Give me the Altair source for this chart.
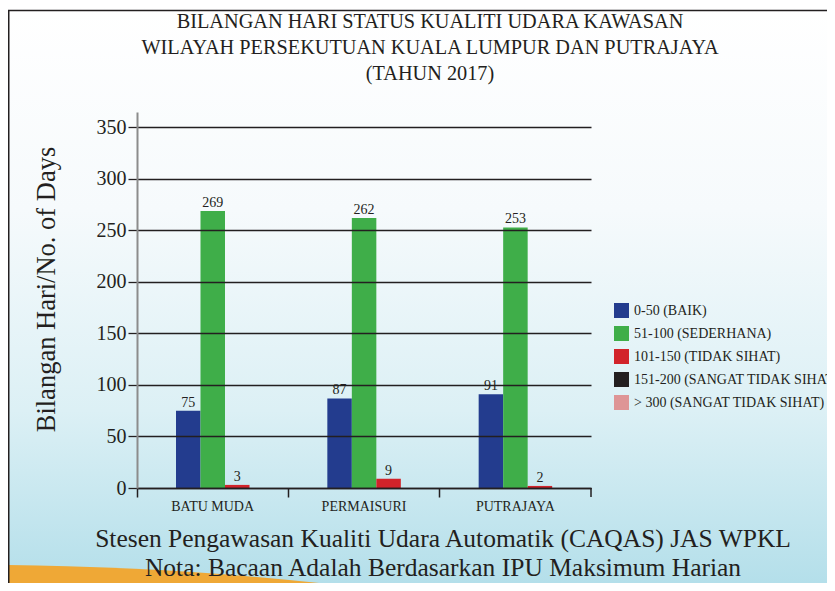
import altair as alt
import pandas as pd

# ---- data ----
stations = ["BATU MUDA", "PERMAISURI", "PUTRAJAYA"]
series = [
    "0-50 (BAIK)",
    "51-100 (SEDERHANA)",
    "101-150 (TIDAK SIHAT)",
    "151-200 (SANGAT TIDAK SIHAT)",
    "> 300 (SANGAT TIDAK SIHAT)",
]
colors = ["#233c8e", "#3fae49", "#d2232a", "#231f20", "#de9596"]
baik = [75, 87, 91]
sederhana = [269, 262, 253]
tidak_sihat = [3, 9, 2]
sangat_tidak_sihat = [0, 0, 0]
lebih_300 = [0, 0, 0]
y_ticks = [0, 50, 100, 150, 200, 250, 300, 350]

title_lines = [
    "BILANGAN HARI STATUS KUALITI UDARA KAWASAN",
    "WILAYAH PERSEKUTUAN KUALA LUMPUR DAN PUTRAJAYA",
    "(TAHUN 2017)",
]
footer_lines = [
    "Stesen Pengawasan Kualiti Udara Automatik (CAQAS) JAS WPKL",
    "Nota: Bacaan Adalah Berdasarkan IPU Maksimum Harian",
]

rows = []
for s, vals in zip(series, [baik, sederhana, tidak_sihat, sangat_tidak_sihat, lebih_300]):
    for st, v in zip(stations, vals):
        rows.append({"station": st, "series": s, "days": v})
df = pd.DataFrame(rows)
cat_df = pd.DataFrame({"station": stations})

FONT = "Liberation Serif"
INK = "#231f20"
W, H = 454, 376
PL, PT = 129, 104  # padding left / top
OX, OY = 8 + PL, 8 + PT  # page position of the plot origin

x_enc = alt.X(
    "station:N",
    sort=stations,
    scale=alt.Scale(domain=stations, paddingInner=0, paddingOuter=0),
    axis=alt.Axis(
        title=None, labels=False, bandPosition=0, ticks=True, tickSize=9,
        tickColor=INK, tickWidth=1.5, domain=True, domainColor=INK,
        domainWidth=1.5, grid=False, zindex=1,
    ),
)

shown = series[:3]
xoff = alt.XOffset(
    "series:N", sort=shown,
    scale=alt.Scale(domain=shown, paddingInner=0, paddingOuter=0, range=[39, 112.5]),
)

y_enc = alt.Y(
    "days:Q",
    scale=alt.Scale(domain=[0, 365], nice=False),
    axis=alt.Axis(
        values=y_ticks, title="Bilangan Hari/No. of Days",
        titleFont=FONT, titleFontSize=26.5, titleFontWeight="normal",
        titleColor=INK, titlePadding=36, titleY=177,
        labelFont=FONT, labelFontSize=20, labelColor=INK, labelPadding=2,
        tickSize=9, tickColor=INK, tickWidth=1.3,
        domainColor="#8c8c8c", domainWidth=2,
        grid=True, gridColor=INK, gridWidth=1.3, zindex=1,
    ),
)

one = alt.Data(values=[{"k": 1}])

bg = alt.Chart(one).mark_rect(
    fill=alt.Gradient(
        gradient="linear", x1=0, y1=0, x2=0, y2=1,
        stops=[
            alt.GradientStop(color="#ffffff", offset=0),
            alt.GradientStop(color="#f6fafc", offset=0.35),
            alt.GradientStop(color="#dcf0f5", offset=0.7),
            alt.GradientStop(color="#b4dfea", offset=1),
        ],
    )
).encode(
    x=alt.value(-PL), x2=alt.value(819 - PL),
    y=alt.value(-PT), y2=alt.value(575 - PT),
)

orange = alt.Chart(one).mark_point(
    shape="M-1,-0.175 C-0.4,-0.17 0.3,-0.13 0.97,-0.04 L0.97,0.2 L-1,0.2 Z",
    filled=True, size=160000, opacity=1, fill="#efa836", strokeWidth=0,
).encode(x=alt.value(200 - OX), y=alt.value(600 - OY))

frame_v = alt.Chart(one).mark_rule(color=INK, strokeWidth=1.5).encode(
    x=alt.value(-PL + 0.75), y=alt.value(10.5 - OY), y2=alt.value(575 - PT)
)
frame_h = alt.Chart(one).mark_rule(color=INK, strokeWidth=1.5).encode(
    x=alt.value(-PL), x2=alt.value(819 - PL), y=alt.value(10.5 - OY)
)

bars = alt.Chart(df).transform_filter("datum.days > 0").mark_bar().encode(
    x=x_enc,
    xOffset=xoff,
    y=y_enc,
    color=alt.Color(
        "series:N",
        scale=alt.Scale(domain=series, range=colors),
        legend=alt.Legend(
            title=None, orient="none", legendX=477, legendY=191,
            symbolType="square", symbolSize=225, symbolStrokeWidth=0,
            symbolOpacity=1, labelFont=FONT, labelFontSize=14,
            labelColor=INK, labelOffset=5, rowPadding=8, padding=0,
            labelLimit=400,
        ),
    ),
)

bar_labels = alt.Chart(df).transform_filter("datum.days > 0").mark_text(
    font=FONT, fontSize=14, color=INK, baseline="bottom", dy=-1
).encode(x=x_enc, xOffset=xoff, y="days:Q", text="days:Q")

end_tick = alt.Chart(one).mark_rule(color=INK, strokeWidth=1.5).encode(
    x=alt.value(W), y=alt.value(H), y2=alt.value(H + 9)
)

cat_labels = alt.Chart(cat_df).mark_text(
    font=FONT, fontSize=14, color=INK, baseline="middle"
).encode(x=x_enc, y=alt.value(H + 19), text="station:N")

title = alt.Chart(one).mark_text(
    text=title_lines, font=FONT, fontSize=20.3, color=INK,
    baseline="middle", align="center", lineHeight=26,
).encode(x=alt.value(430 - OX), y=alt.value(22 - OY))

footer = alt.Chart(one).mark_text(
    text=footer_lines, font=FONT, fontSize=25.5, color=INK,
    baseline="middle", align="center", lineHeight=29,
).encode(x=alt.value(443 - OX), y=alt.value(539 - OY))

chart = alt.layer(
    bg, orange, frame_v, frame_h, bars, bar_labels, end_tick, cat_labels, title, footer
).properties(
    width=W, height=H,
    padding={"left": PL, "top": PT, "right": 819 - PL - W, "bottom": 575 - PT - H},
    autosize=alt.AutoSizeParams(type="none"),
    background="#ffffff",
).configure_view(stroke=None)

chart.save("out.html", embed_options={"renderer": "svg", "actions": False})
